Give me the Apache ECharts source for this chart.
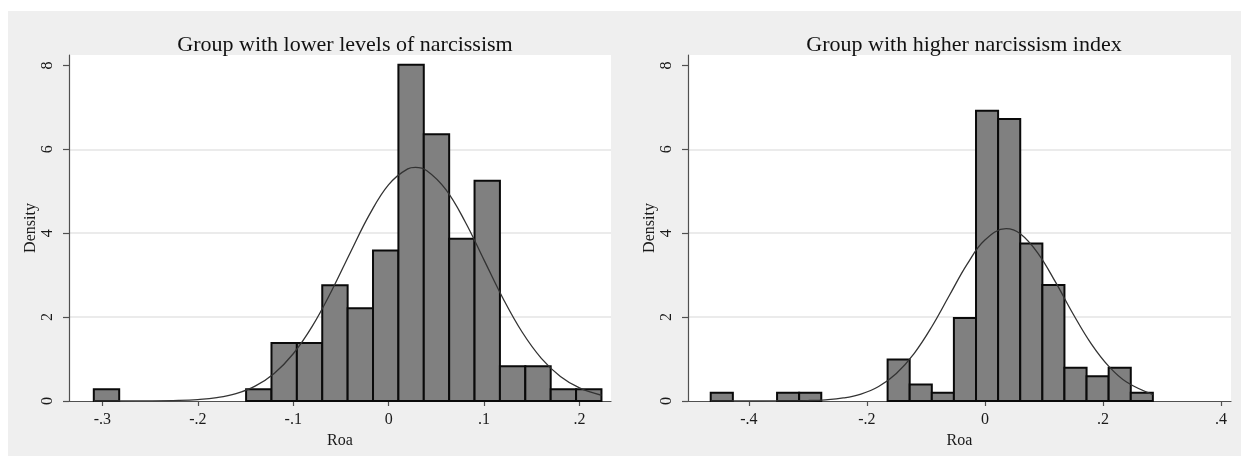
<!DOCTYPE html>
<html>
<head>
<meta charset="utf-8">
<script src="https://cdn.jsdelivr.net/npm/echarts@6/dist/echarts.min.js"></script>
<style>
  html, body { margin: 0; padding: 0; background: #ffffff; }
  #wrap { position: relative; width: 1241px; height: 456px; background: #ffffff; }
  #bg { position: absolute; left: 8px; top: 11px; width: 1233px; height: 445px; background: #efefef; }
  #chart { position: absolute; left: 0; top: 0; width: 1241px; height: 456px; }
</style>
</head>
<body>
<div id="wrap"><div id="bg"></div><div id="chart"></div></div>
<script>
// ---- Data ----
const titleLeft = "Group with lower levels of narcissism";
const titleRight = "Group with higher narcissism index";
const xAxisName = "Roa";
const yAxisName = "Density";

// Left panel histogram: bin edges and densities
const leftEdges = [-0.309, -0.2824, -0.2558, -0.2292, -0.2026, -0.176, -0.1494, -0.1228, -0.0962, -0.0696,
  -0.043, -0.0164, 0.0102, 0.0368, 0.0634, 0.09, 0.1166, 0.1432, 0.1698, 0.1964, 0.223];
const leftDensity = [0.28, 0, 0, 0, 0, 0, 0.28, 1.38, 1.38, 2.76, 2.21, 3.59, 8.02, 6.36, 3.87, 5.25, 0.83, 0.83, 0.28, 0.28];
// Left normal curve points [x, density]
const leftCurveX = [-0.309, -0.28, -0.25, -0.22, -0.20, -0.18, -0.16, -0.14, -0.12, -0.10, -0.08, -0.06, -0.04, -0.02,
  0, 0.02, 0.028, 0.04, 0.06, 0.08, 0.10, 0.12, 0.14, 0.16, 0.18, 0.20, 0.223];
const leftCurveY = [0.0001, 0.0005, 0.003, 0.014, 0.035, 0.082, 0.177, 0.355, 0.658, 1.127, 1.786, 2.618, 3.548, 4.449,
  5.16, 5.535, 5.57, 5.492, 5.04, 4.28, 3.359, 2.439, 1.639, 1.018, 0.585, 0.311, 0.137];

// Right panel histogram
const rightEdges = [-0.4645, -0.427, -0.3896, -0.3521, -0.3147, -0.2772, -0.2397, -0.2023, -0.1648, -0.1274,
  -0.0899, -0.0525, -0.015, 0.0224, 0.0599, 0.0974, 0.1348, 0.1723, 0.2097, 0.2472, 0.2846];
const rightDensity = [0.198, 0, 0, 0.198, 0.198, 0, 0, 0, 0.989, 0.395, 0.198, 1.977, 6.92, 6.722, 3.756, 2.768, 0.791, 0.593, 0.791, 0.198];
const rightCurveX = [-0.4645, -0.42, -0.38, -0.34, -0.30, -0.27, -0.24, -0.21, -0.18, -0.15, -0.12, -0.09, -0.06, -0.03,
  0, 0.036, 0.06, 0.09, 0.12, 0.15, 0.18, 0.21, 0.24, 0.2846];
const rightCurveY = [0, 0.0001, 0.0004, 0.0023, 0.0103, 0.0287, 0.0724, 0.166, 0.346, 0.656, 1.131, 1.771, 2.521, 3.262,
  3.837, 4.11, 3.986, 3.521, 2.827, 2.063, 1.369, 0.825, 0.452, 0.154];

// Tick values and labels
const leftXTicks = [-0.3, -0.2, -0.1, 0, 0.1, 0.2];
const leftXLabels = ["-.3", "-.2", "-.1", "0", ".1", ".2"];
const rightXTicks = [-0.4, -0.2, 0, 0.2, 0.4];
const rightXLabels = ["-.4", "-.2", "0", ".2", ".4"];
const yTicks = [0, 2, 4, 6, 8];
const yLabels = ["0", "2", "4", "6", "8"];

// ---- Chart ----
const FONT = "'Liberation Serif', 'Times New Roman', serif";
const AXIS_COLOR = '#505050';
const TEXT_COLOR = '#1a1a1a';

function barsData(edges, dens) {
  const out = [];
  for (let i = 0; i < dens.length; i++) {
    if (dens[i] > 0) out.push([edges[i], edges[i + 1], dens[i]]);
  }
  return out;
}
function curveData(xs, ys) { return xs.map((x, i) => [x, ys[i]]); }
function labelFmt(ticks, labels) {
  return function (v) {
    for (let i = 0; i < ticks.length; i++) if (Math.abs(ticks[i] - v) < 1e-9) return labels[i];
    return '';
  };
}

function renderBar(params, api) {
  const p0 = api.coord([api.value(0), api.value(2)]);
  const p1 = api.coord([api.value(1), 0]);
  return {
    type: 'rect',
    shape: { x: p0[0], y: p0[1], width: p1[0] - p0[0], height: p1[1] - p0[1] },
    style: { fill: '#808080', stroke: '#0a0a0a', lineWidth: 2 }
  };
}

function xAxisOpt(gridIndex, min, max, ticks, labels) {
  return {
    type: 'value', gridIndex: gridIndex, min: min, max: max,
    name: xAxisName, nameLocation: 'middle', nameGap: 27,
    nameTextStyle: { fontFamily: FONT, fontSize: 16, color: TEXT_COLOR },
    axisLine: { show: true, onZero: false, lineStyle: { color: AXIS_COLOR, width: 1.2 } },
    axisTick: { show: true, length: 5, customValues: ticks, lineStyle: { color: AXIS_COLOR, width: 1.2 } },
    axisLabel: { customValues: ticks, formatter: labelFmt(ticks, labels), margin: 11,
      fontFamily: FONT, fontSize: 16, color: TEXT_COLOR },
    splitLine: { show: false }
  };
}
function yAxisOpt(gridIndex) {
  return {
    type: 'value', gridIndex: gridIndex, min: 0, max: 8.25, interval: 2,
    name: yAxisName, nameLocation: 'middle', nameGap: 29, nameRotate: 90,
    nameTextStyle: { fontFamily: FONT, fontSize: 16, color: TEXT_COLOR },
    axisLine: { show: true, onZero: false, lineStyle: { color: AXIS_COLOR, width: 1.2 } },
    axisTick: { show: true, length: 6, customValues: yTicks, lineStyle: { color: AXIS_COLOR, width: 1.2 } },
    axisLabel: { customValues: yTicks, formatter: labelFmt(yTicks, yLabels), rotate: 90, margin: 13,
      fontFamily: FONT, fontSize: 16, color: TEXT_COLOR },
    splitLine: { show: true, showMinLine: false, showMaxLine: false, lineStyle: { color: '#e4e4e4', width: 1.5 } }
  };
}

const chart = echarts.init(document.getElementById('chart'), null, { renderer: 'canvas' });
chart.setOption({
  backgroundColor: 'transparent',
  animation: false,
  title: [
    { text: titleLeft, left: 340, top: 29, textAlign: 'center',
      textStyle: { fontFamily: FONT, fontSize: 22, fontWeight: 'normal', color: '#111111' } },
    { text: titleRight, left: 959, top: 29, textAlign: 'center',
      textStyle: { fontFamily: FONT, fontSize: 22, fontWeight: 'normal', color: '#111111' } }
  ],
  grid: [
    { left: 69, top: 55, width: 542, bottom: 55, show: true, backgroundColor: '#ffffff', borderWidth: 0 },
    { left: 688, top: 55, width: 543, bottom: 55, show: true, backgroundColor: '#ffffff', borderWidth: 0 }
  ],
  xAxis: [
    xAxisOpt(0, -0.335, 0.233, leftXTicks, leftXLabels),
    xAxisOpt(1, -0.503, 0.417, rightXTicks, rightXLabels)
  ],
  yAxis: [yAxisOpt(0), yAxisOpt(1)],
  series: [
    { type: 'custom', xAxisIndex: 0, yAxisIndex: 0, renderItem: renderBar,
      encode: { x: [0, 1], y: 2 }, data: barsData(leftEdges, leftDensity), z: 2 },
    { type: 'line', xAxisIndex: 0, yAxisIndex: 0, data: curveData(leftCurveX, leftCurveY),
      showSymbol: false, symbol: 'none', smooth: 0.4, z: 3,
      lineStyle: { color: '#333333', width: 1.3 } },
    { type: 'custom', xAxisIndex: 1, yAxisIndex: 1, renderItem: renderBar,
      encode: { x: [0, 1], y: 2 }, data: barsData(rightEdges, rightDensity), z: 2 },
    { type: 'line', xAxisIndex: 1, yAxisIndex: 1, data: curveData(rightCurveX, rightCurveY),
      showSymbol: false, symbol: 'none', smooth: 0.4, z: 3,
      lineStyle: { color: '#333333', width: 1.3 } }
  ]
});
</script>
</body>
</html>
